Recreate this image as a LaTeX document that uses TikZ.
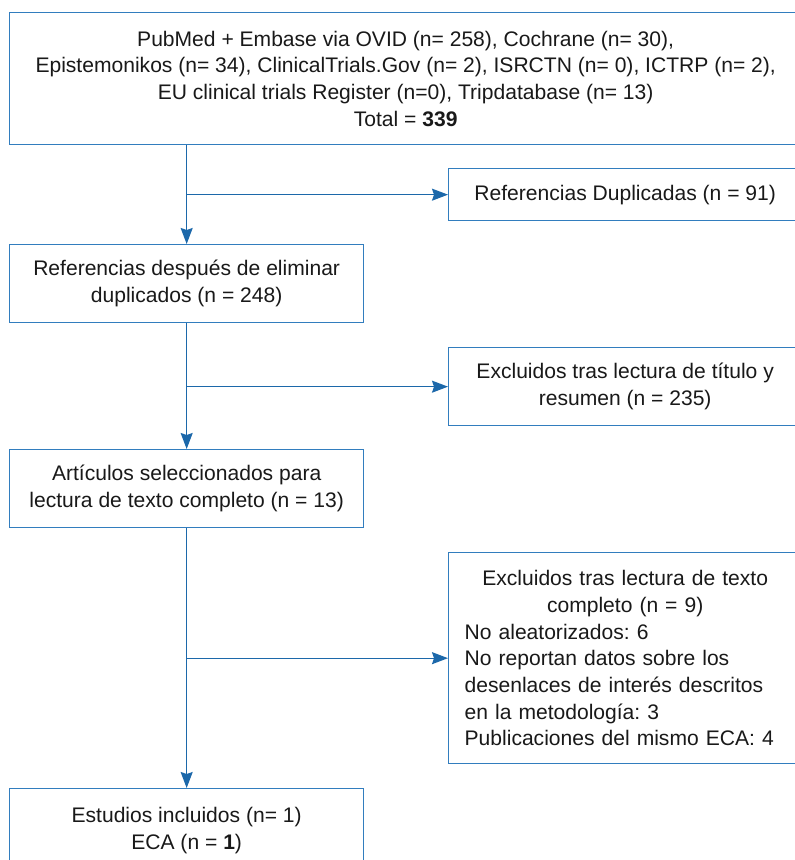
\documentclass[tikz,border=0pt]{standalone}
\usepackage{fontspec}
\setmainfont{Liberation Sans}
\usetikzlibrary{arrows.meta}
\frenchspacing
\definecolor{flowblue}{RGB}{28,104,170}
\definecolor{boxblue}{RGB}{50,125,190}
\definecolor{txt}{RGB}{25,25,25}
\begin{document}
\begin{tikzpicture}[x=0.75pt,y=-0.75pt,
  box/.style={draw=boxblue, line width=1pt, fill=white, inner sep=0pt, anchor=north west,
    align=center, text=txt, font=\fontsize{15.8}{20}\selectfont\frenchspacing},
  arr/.style={draw=flowblue, line width=1pt, -{Stealth[length=12pt,width=9pt,inset=1.5pt]}}]
\useasboundingbox (0,0) rectangle (794,860);

\node[box, minimum width=594pt, minimum height=99pt] (top) at (9,12)
  {PubMed + Embase via OVID (n= 258), Cochrane (n= 30),\\
   Epistemonikos (n= 34), ClinicalTrials.Gov (n= 2), ISRCTN (n= 0), ICTRP (n= 2),\\
   EU clinical trials Register (n=0), Tripdatabase (n= 13)\\
   Total = \textbf{339}};

\node[box, minimum width=264.75pt, minimum height=39pt] (dup) at (448,168)
  {Referencias Duplicadas (n = 91)};

\node[box, minimum width=265.5pt, minimum height=58.5pt] (b2) at (9,244)
  {Referencias después de eliminar\\duplicados (n = 248)};

\node[box, minimum width=264.75pt, minimum height=58.5pt] (ex2) at (448,347)
  {Excluidos tras lectura de título y\\resumen (n = 235)};

\node[box, minimum width=265.5pt, minimum height=58.5pt] (b3) at (9,449)
  {Artículos seleccionados para\\lectura de texto completo (n = 13)};

\node[box, minimum width=264.75pt, minimum height=158.25pt, text width=240.75pt, align=left] (ex3) at (448,552)
  {\makebox[\linewidth][c]{Excluidos tras lectura de texto}\\
   \makebox[\linewidth][c]{completo (n = 9)}\\
   No aleatorizados: 6\\
   No reportan datos sobre los\\
   desenlaces de interés descritos\\
   en la metodología: 3\\
   Publicaciones del mismo ECA: 4};

\node[box, minimum width=265.5pt, minimum height=63pt] (fin) at (9,788)
  {Estudios incluidos (n= 1)\\ECA (n = \textbf{1})};

\draw[arr] (top.south -| b2.north) -- (b2.north);
\draw[arr] (b2.north |- dup.west) -- (dup.west);
\draw[arr] (b2.south) -- (b3.north);
\draw[arr] (b2.south |- ex2.west) -- (ex2.west);
\draw[arr] (b3.south) -- (fin.north);
\draw[arr] (b3.south |- ex3.west) -- (ex3.west);
\end{tikzpicture}
\end{document}
